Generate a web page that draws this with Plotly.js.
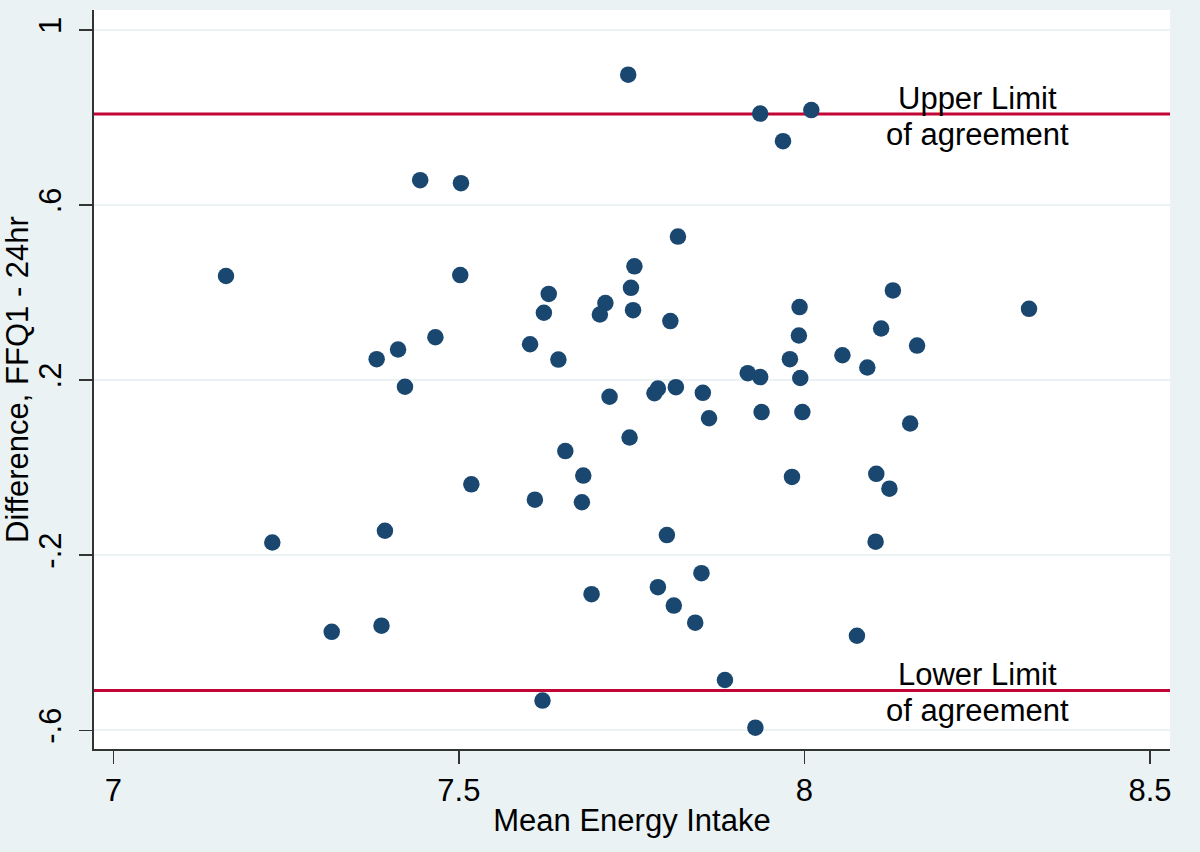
<!DOCTYPE html>
<html>
<head>
<meta charset="utf-8">
<script src="https://cdn.plot.ly/plotly-3.0.1.min.js"></script>
<style>
  html, body { margin: 0; padding: 0; background: #eaf2f3; }
  #chart { width: 1200px; height: 852px; }
</style>
</head>
<body>
<div id="chart"></div>
<script>
// Bland-Altman data: mean energy intake vs difference (FFQ1 - 24hr)
const meanIntake = [
  7.745, 7.936, 8.010, 7.969, 7.444, 7.503, 7.817, 7.163, 7.502, 7.754,
  7.749, 7.752, 7.630, 7.623, 7.712, 7.704, 7.806, 7.603, 7.644, 7.993,
  7.992, 7.979, 8.128, 8.325, 8.111, 8.163, 8.055, 8.091, 7.466, 7.412,
  7.381, 7.422, 7.918, 7.936, 7.994, 7.718, 7.783, 7.788, 7.814, 7.853,
  7.862, 7.938, 7.997, 7.747, 7.654, 7.680, 7.518, 7.610, 7.678, 7.982,
  7.801, 7.851, 7.788, 7.692, 7.811, 7.842, 7.885, 7.621, 7.929, 7.393,
  7.230, 7.388, 7.316, 8.153, 8.104, 8.123, 8.103, 8.076
];
const difference = [
  0.898, 0.809, 0.817, 0.746, 0.657, 0.650, 0.528, 0.438, 0.440, 0.460,
  0.411, 0.360, 0.397, 0.354, 0.376, 0.350, 0.335, 0.282, 0.247, 0.367,
  0.302, 0.248, 0.405, 0.363, 0.318, 0.279, 0.257, 0.229, 0.298, 0.270,
  0.248, 0.185, 0.216, 0.207, 0.205, 0.162, 0.170, 0.181, 0.184, 0.171,
  0.113, 0.127, 0.127, 0.069, 0.038, -0.018, -0.038, -0.073, -0.079, -0.021,
  -0.154, -0.241, -0.273, -0.289, -0.315, -0.354, -0.485, -0.532, -0.594, -0.144,
  -0.171, -0.361, -0.375, 0.101, -0.014, -0.048, -0.169, -0.384
];
const upperLimit = 0.808;
const lowerLimit = -0.509;
const limitLabelX = 8.251;

const xTickVals = [7, 7.5, 8, 8.5];
const xTickText = ['7', '7.5', '8', '8.5'];
const yTickVals = [1, 0.6, 0.2, -0.2, -0.6];
const yTickText = ['1', '.6', '.2', '-.2', '-.6'];

const FONT = 'Liberation Sans, Arial, Helvetica, sans-serif';
const FS = 31;

const trace = {
  type: 'scatter',
  mode: 'markers',
  x: meanIntake,
  y: difference,
  marker: { color: '#1a476f', size: 16.5, line: { width: 0 } },
  hoverinfo: 'x+y',
  showlegend: false
};

const layout = {
  width: 1200,
  height: 852,
  paper_bgcolor: '#eaf2f3',
  plot_bgcolor: '#ffffff',
  margin: { l: 94, r: 30, t: 10, b: 103, pad: 0 },
  font: { family: FONT, size: FS, color: '#000000' },
  showlegend: false,
  xaxis: {
    range: [6.972, 8.529],
    tickvals: xTickVals,
    ticktext: xTickText,
    ticks: 'outside',
    ticklen: 13,
    tickwidth: 1.5,
    tickcolor: '#333333',
    showline: true,
    linecolor: '#333333',
    linewidth: 2,
    showgrid: false,
    zeroline: false,
    automargin: false,
    tickfont: { family: FONT, size: FS, color: '#000000' },
    title: { text: 'Mean Energy Intake', font: { family: FONT, size: FS, color: '#000000' }, standoff: 2 }
  },
  yaxis: {
    range: [-0.6427, 1.0457],
    tickvals: yTickVals,
    ticktext: yTickText,
    tickangle: -90,
    ticks: 'outside',
    ticklen: 13,
    tickwidth: 1.5,
    tickcolor: '#333333',
    ticklabelstandoff: 6,
    showline: true,
    linecolor: '#333333',
    linewidth: 2,
    showgrid: true,
    gridcolor: '#eaf2f3',
    gridwidth: 2,
    zeroline: false,
    automargin: false,
    tickfont: { family: FONT, size: FS, color: '#000000' },
    title: { text: 'Difference, FFQ1 - 24hr', font: { family: FONT, size: FS, color: '#000000' }, standoff: 0 }
  },
  shapes: [
    { type: 'line', layer: 'between', xref: 'paper', x0: 0, x1: 1, yref: 'y', y0: upperLimit, y1: upperLimit,
      line: { color: '#c10534', width: 3 } },
    { type: 'line', layer: 'between', xref: 'paper', x0: 0, x1: 1, yref: 'y', y0: lowerLimit, y1: lowerLimit,
      line: { color: '#c10534', width: 3 } }
  ],
  annotations: [
    { x: limitLabelX, y: upperLimit, xref: 'x', yref: 'y', text: 'Upper Limit', showarrow: false,
      xanchor: 'center', yanchor: 'middle', yshift: 16, font: { family: FONT, size: FS, color: '#000000' } },
    { x: limitLabelX, y: upperLimit, xref: 'x', yref: 'y', text: 'of agreement', showarrow: false,
      xanchor: 'center', yanchor: 'middle', yshift: -20, font: { family: FONT, size: FS, color: '#000000' } },
    { x: limitLabelX, y: lowerLimit, xref: 'x', yref: 'y', text: 'Lower Limit', showarrow: false,
      xanchor: 'center', yanchor: 'middle', yshift: 16, font: { family: FONT, size: FS, color: '#000000' } },
    { x: limitLabelX, y: lowerLimit, xref: 'x', yref: 'y', text: 'of agreement', showarrow: false,
      xanchor: 'center', yanchor: 'middle', yshift: -20, font: { family: FONT, size: FS, color: '#000000' } }
  ]
};

Plotly.newPlot('chart', [trace], layout, { displayModeBar: false, staticPlot: true });
</script>
</body>
</html>
